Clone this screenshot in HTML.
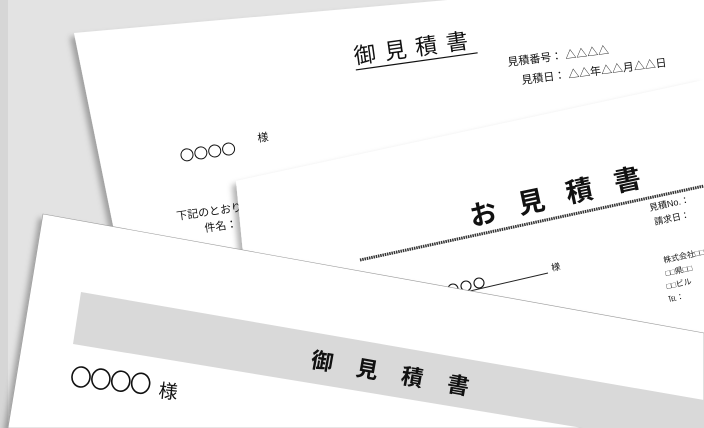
<!DOCTYPE html>
<html><head><meta charset="utf-8"><style>
html,body{margin:0;padding:0;width:704px;height:428px;overflow:hidden;background:#e2e2e2}
svg{display:block}
text{font-family:"Liberation Sans","Noto Sans CJK JP",sans-serif;fill:#111}
</style></head><body>
<svg width="704" height="428" viewBox="0 0 704 428">
<defs>
<filter id="sh" x="-10%" y="-10%" width="120%" height="130%">
<feDropShadow dx="-4" dy="4" stdDeviation="3" flood-color="#000" flood-opacity="0.3"/>
</filter>
</defs>
<rect width="704" height="428" fill="#e3e3e3"/>
<rect width="8" height="428" fill="#d6d6d6"/>
<!-- back paper -->
<polygon points="74,33 470,-2 704,-2 704,428 125,428 118,250" fill="#fff" filter="url(#sh)"/>
<g transform="rotate(-8 355 64)">
<text x="355" y="64" font-size="22" letter-spacing="9">御見積書</text>
<line x1="355" y1="70" x2="478" y2="70" stroke="#111" stroke-width="1.2"/>
</g>
<text x="508" y="66" font-size="11" transform="rotate(-7 508 66)">見積番号： △△△△</text>
<text x="522" y="84" font-size="11" transform="rotate(-7 522 84)">見積日： △△年△△月△△日</text>
<g fill="none" stroke="#111" stroke-width="1" transform="rotate(-8 186 155)">
<circle cx="187" cy="155" r="6"/><circle cx="201" cy="155" r="6"/><circle cx="215" cy="155" r="6"/><circle cx="229" cy="155" r="6"/>
</g>
<text x="258" y="142" font-size="11" transform="rotate(-8 258 142)">様</text>
<text x="177" y="220" font-size="11" transform="rotate(-8 177 220)">下記のとおり、御</text>
<text x="205" y="232" font-size="11" transform="rotate(-8 205 232)">件名：</text>
<!-- middle paper -->
<polygon points="236,181 704,80 704,428 260,428" fill="#fff" filter="url(#sh)"/>
<g font-size="27" font-weight="bold">
<text x="472" y="226" transform="rotate(-12 472 226)">お</text>
<text x="520" y="214" transform="rotate(-12 520 214)">見</text>
<text x="568" y="203" transform="rotate(-12 568 203)">積</text>
<text x="616" y="192" transform="rotate(-12 616 192)">書</text>
</g>
<text x="650" y="211" font-size="9" transform="rotate(-12 650 211)">見積No.：</text>
<text x="655" y="225" font-size="9" transform="rotate(-12 655 225)">請求日：</text>
<text x="664" y="263" font-size="8" transform="rotate(-12 664 263)">株式会社□□</text>
<text x="666" y="276" font-size="8" transform="rotate(-12 666 276)">□□県□□</text>
<text x="667" y="289" font-size="8" transform="rotate(-12 667 289)">□□ビル</text>
<text x="669" y="302" font-size="8" transform="rotate(-12 669 302)">℡：</text>
<line x1="360" y1="260" x2="704" y2="186" stroke="#333" stroke-width="3" stroke-dasharray="1.5 0.8"/>
<g fill="none" stroke="#111" stroke-width="1.1">
<circle cx="453" cy="289" r="5"/><circle cx="466" cy="286" r="5"/><circle cx="479" cy="283" r="5"/>
</g>
<line x1="470" y1="291" x2="548" y2="273" stroke="#222" stroke-width="1"/>
<text x="552" y="271" font-size="9" transform="rotate(-12 552 271)">様</text>
<!-- front paper -->
<polygon points="43,214 704,333 704,428 8,428" fill="#fff" stroke="#999" stroke-width="0.6" filter="url(#sh)"/>
<polygon points="81,292 704,400 704,448 73,344" fill="#d9d9d9"/>
<g font-size="22" font-weight="bold">
<text x="310" y="367" transform="rotate(10 310 367)">御</text>
<text x="355" y="375" transform="rotate(10 355 375)">見</text>
<text x="400" y="383" transform="rotate(10 400 383)">積</text>
<text x="446" y="391" transform="rotate(10 446 391)">書</text>
</g>
<g fill="none" stroke="#111" stroke-width="1.6" transform="rotate(6 81 377)">
<ellipse cx="81" cy="377" rx="9" ry="10"/><ellipse cx="101" cy="377" rx="9" ry="10"/><ellipse cx="121" cy="377" rx="9" ry="10"/><ellipse cx="141" cy="377" rx="9" ry="10"/>
</g>
<text x="158" y="397" font-size="19" transform="rotate(6 158 397)">様</text>
</svg>
</body></html>
